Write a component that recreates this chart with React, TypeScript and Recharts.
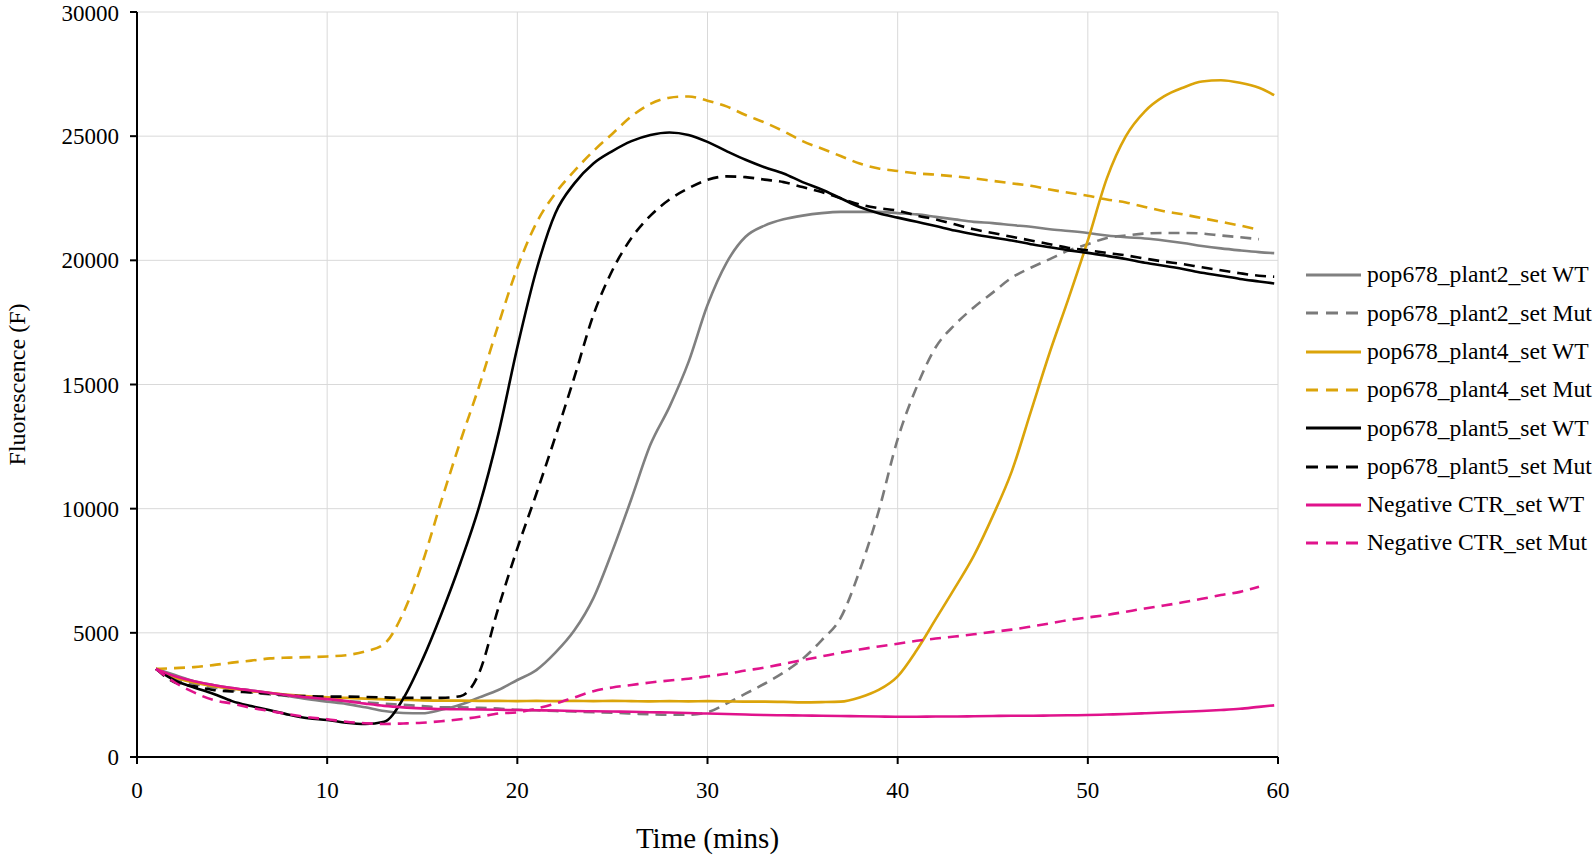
import React from 'react';
import { LineChart, Line, XAxis, YAxis, CartesianGrid, Legend } from 'recharts';

const times = [1,2,3,4,5,6,7,8,9,10,11,12,13,14,15,16,17,18,19,20,21,22,23,24,25,26,27,28,29,30,31,32,33,34,35,36,37,38,39,40,41,42,43,44,45,46,47,48,49,50,51,52,53,54,55,56,57,58,59,59.8];

const plant2WT = [3550,3300,3050,2900,2780,2680,2580,2450,2330,2230,2140,2000,1850,1770,1760,1900,2100,2400,2700,3100,3500,4200,5100,6400,8300,10400,12580,14100,15900,18200,19900,20950,21400,21650,21800,21900,21950,21950,21950,21900,21850,21750,21650,21550,21500,21420,21350,21250,21180,21100,21000,20930,20880,20800,20700,20580,20480,20400,20330,20290];
const plant2Mut = [3550,3150,2950,2800,2700,2600,2520,2450,2380,2300,2250,2200,2150,2100,2050,2000,2000,1980,1950,1900,1880,1850,1830,1800,1780,1750,1720,1700,1700,1800,2150,2550,2950,3400,3950,4700,5600,7500,9900,12800,14900,16500,17400,18100,18700,19300,19700,20050,20400,20650,20900,21000,21080,21100,21100,21080,21000,20930,20850,null];
const plant4WT = [3550,3200,3000,2850,2750,2650,2580,2500,2440,2400,2380,2350,2320,2300,2280,2270,2270,2260,2260,2250,2260,2250,2260,2250,2260,2250,2240,2250,2240,2250,2240,2230,2230,2220,2200,2210,2230,2400,2700,3250,4300,5550,6800,8100,9700,11500,13900,16300,18500,20800,23300,25000,26000,26600,26950,27200,27250,27150,26950,26650];
const plant4Mut = [3550,3580,3620,3700,3800,3880,3970,4000,4020,4050,4100,4250,4550,5800,7800,10300,12700,14950,17400,19700,21500,22700,23600,24400,25100,25800,26300,26550,26600,26430,26200,25850,25550,25200,24800,24500,24200,23900,23700,23600,23500,23450,23380,23300,23200,23100,23000,22850,22720,22600,22450,22330,22150,21980,21850,21700,21550,21400,21230,null];
const plant5WT = [3550,3080,2800,2550,2250,2050,1880,1700,1560,1490,1380,1330,1420,2350,3900,5750,7800,10100,13000,16500,19600,21900,23100,23900,24400,24800,25050,25150,25050,24770,24400,24050,23750,23500,23150,22850,22500,22150,21900,21720,21550,21380,21200,21050,20920,20800,20650,20530,20400,20300,20180,20050,19900,19780,19650,19500,19380,19250,19150,19070];
const plant5Mut = [3550,3000,2850,2700,2640,2600,2550,2480,2450,2430,2430,2420,2400,2380,2380,2380,2450,3400,6000,8400,10600,12900,15300,17800,19600,20900,21800,22450,22900,23240,23380,23350,23250,23150,22950,22750,22500,22250,22100,22000,21800,21650,21450,21250,21100,20950,20800,20650,20500,20400,20300,20200,20070,19950,19850,19720,19600,19480,19380,19340];
const negWT = [3550,3250,3050,2900,2780,2680,2580,2480,2400,2330,2250,2150,2060,2000,1960,1930,1920,1910,1900,1890,1880,1870,1850,1840,1830,1820,1800,1790,1770,1750,1730,1710,1690,1680,1670,1660,1650,1640,1630,1620,1620,1630,1630,1640,1650,1660,1660,1670,1680,1690,1710,1730,1760,1790,1820,1850,1890,1940,2020,2080];
const negMut = [3550,3000,2600,2300,2150,1980,1850,1720,1600,1520,1420,1360,1330,1350,1380,1440,1520,1620,1750,1800,1950,2150,2400,2650,2800,2900,3000,3080,3150,3250,3350,3480,3600,3750,3900,4050,4200,4330,4450,4560,4680,4770,4850,4940,5040,5130,5250,5380,5520,5620,5720,5850,5980,6100,6230,6370,6520,6650,6860,null];

const xTicks = [0, 10, 20, 30, 40, 50, 60];
const yTicks = [0, 5000, 10000, 15000, 20000, 25000, 30000];

const seriesNames = [
  'pop678_plant2_set WT',
  'pop678_plant2_set Mut',
  'pop678_plant4_set WT',
  'pop678_plant4_set Mut',
  'pop678_plant5_set WT',
  'pop678_plant5_set Mut',
  'Negative CTR_set WT',
  'Negative CTR_set Mut',
];
const seriesValues = [plant2WT, plant2Mut, plant4WT, plant4Mut, plant5WT, plant5Mut, negWT, negMut];
const seriesColors = ['#808080', '#7a7a7a', '#DBA40A', '#DBA40A', '#000000', '#000000', '#E0138C', '#E0138C'];
const seriesDashed = [false, true, false, true, false, true, false, true];

const data = times.map((t, i) => {
  const row: Record<string, number | null> = { t };
  seriesValues.forEach((arr, s) => {
    row['s' + s] = arr[i] === undefined ? null : arr[i];
  });
  return row;
});

const FONT = '"Liberation Serif", "Times New Roman", serif';
const DASH = '11 7';

const LegendContent = () => (
  <div style={{ fontFamily: FONT, fontSize: 23.6, color: '#000' }}>
    {seriesNames.map((name, i) => (
      <div key={name} style={{ height: 38.3, display: 'flex', alignItems: 'center', whiteSpace: 'nowrap' }}>
        <svg width={62} height={10} style={{ display: 'block', flexShrink: 0 }}>
          <line x1={6} y1={5} x2={61} y2={5} stroke={seriesColors[i]} strokeWidth={3}
            strokeDasharray={seriesDashed[i] ? '12 8' : undefined} />
        </svg>
        <span style={{ marginLeft: 5, lineHeight: 1 }}>{name}</span>
      </div>
    ))}
  </div>
);

export default function App() {
  return (
    <div style={{ position: 'absolute', left: 0, top: 0, width: 1593, height: 856, background: '#fff', overflow: 'hidden' }}>
      <LineChart
        width={1593}
        height={856}
        data={data}
        margin={{ top: 12, right: 315, left: 0, bottom: 0 }}
      >
        <CartesianGrid stroke="#d9d9d9" strokeWidth={1} />
        <XAxis
          dataKey="t"
          type="number"
          domain={[0, 60]}
          ticks={xTicks}
          height={99}
          stroke="#000"
          strokeWidth={2}
          tickSize={7}
          tickMargin={18}
          tick={{ fill: '#000', fontSize: 23, fontFamily: FONT }}
          tickLine={{ stroke: '#000', strokeWidth: 2 }}
          label={{ value: 'Time (mins)', position: 'insideBottom', offset: 8, fill: '#000', fontSize: 29, fontFamily: FONT }}
        />
        <YAxis
          type="number"
          domain={[0, 30000]}
          ticks={yTicks}
          width={137}
          stroke="#000"
          strokeWidth={2}
          tickSize={7}
          tickMargin={11}
          tick={{ fill: '#000', fontSize: 23, fontFamily: FONT }}
          tickLine={{ stroke: '#000', strokeWidth: 2 }}
          label={{ value: 'Fluorescence (F)', angle: -90, position: 'insideLeft', offset: 16, fill: '#000', fontSize: 24, fontFamily: FONT, style: { textAnchor: 'middle' } }}
        />
        <Legend
          layout="vertical"
          align="center"
          verticalAlign="middle"
          content={<LegendContent />}
          wrapperStyle={{ left: 1300, top: 256, width: 300 }}
        />
        {seriesNames.map((name, i) => (
          <Line
            key={name}
            name={name}
            dataKey={'s' + i}
            type="monotone"
            stroke={seriesColors[i]}
            strokeWidth={2.6}
            strokeDasharray={seriesDashed[i] ? DASH : undefined}
            dot={false}
            activeDot={false}
            connectNulls={false}
            isAnimationActive={false}
          />
        ))}
      </LineChart>
    </div>
  );
}
